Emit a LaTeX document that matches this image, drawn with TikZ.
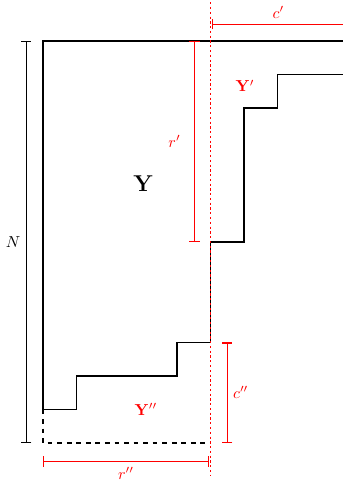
\documentclass[tikz,border=0pt]{standalone}
\usepackage{amssymb}
\usepackage{amsmath}
\usepackage{bm}
\usetikzlibrary{arrows.meta}

\begin{document}
\begin{tikzpicture}[x=0.74cm,y=0.74cm]
\tikzstyle{dimline}=[line width=0.8pt,{Bar[width=6.5pt]}-{Bar[width=6.5pt]}]
\tikzstyle{rdim}=[red,dimline]
\tikzstyle{edge}=[black,line width=1.1pt]
\useasboundingbox (-1.284,-1.254) rectangle (8.955,13.224);
% block and staircase
\draw [edge] (0,1) -- (0,12) -- (9,12);
\draw [edge] (0,1) -- (1,1) -- (1,2) -- (4,2) -- (4,3) -- (5,3) -- (5,6)
  -- (6,6) -- (6,10) -- (7,10) -- (7,11) -- (9,11);
\draw [edge,dashed] (0,1) -- (0,0) -- (5,0);
% split line
\draw [red,line width=1.2pt,dash pattern=on 1.4pt off 1.6pt] (5,13.3) -- (5,-0.95);
% sizes
\draw [black,dimline] (-0.5,0) -- node [left] (N) {$N$} (-0.5,12);
\draw [rdim] (4.52,6) -- node [left=5pt] (rp) {$r'$} (4.52,12);
\draw [rdim] (5.05,12.5) -- node [above] (cp) {$c'$} (9,12.5);
\draw [rdim] (5.5,3) -- node [right] (cpp) {$c''$} (5.5,0);
\draw [rdim] (0,-0.55) -- node [below] (rpp) {$r''$} (4.95,-0.55);
% blocks
\draw (3,7.75) node (Y) {\Large $\mathbf{Y}$};
\draw (6.03,10.66) node [red] (Yp) {$\mathbf{Y}'$};
\draw (3.07,1.01) node [red] (Ypp) {$\mathbf{Y}''$};
\end{tikzpicture}
\end{document}
